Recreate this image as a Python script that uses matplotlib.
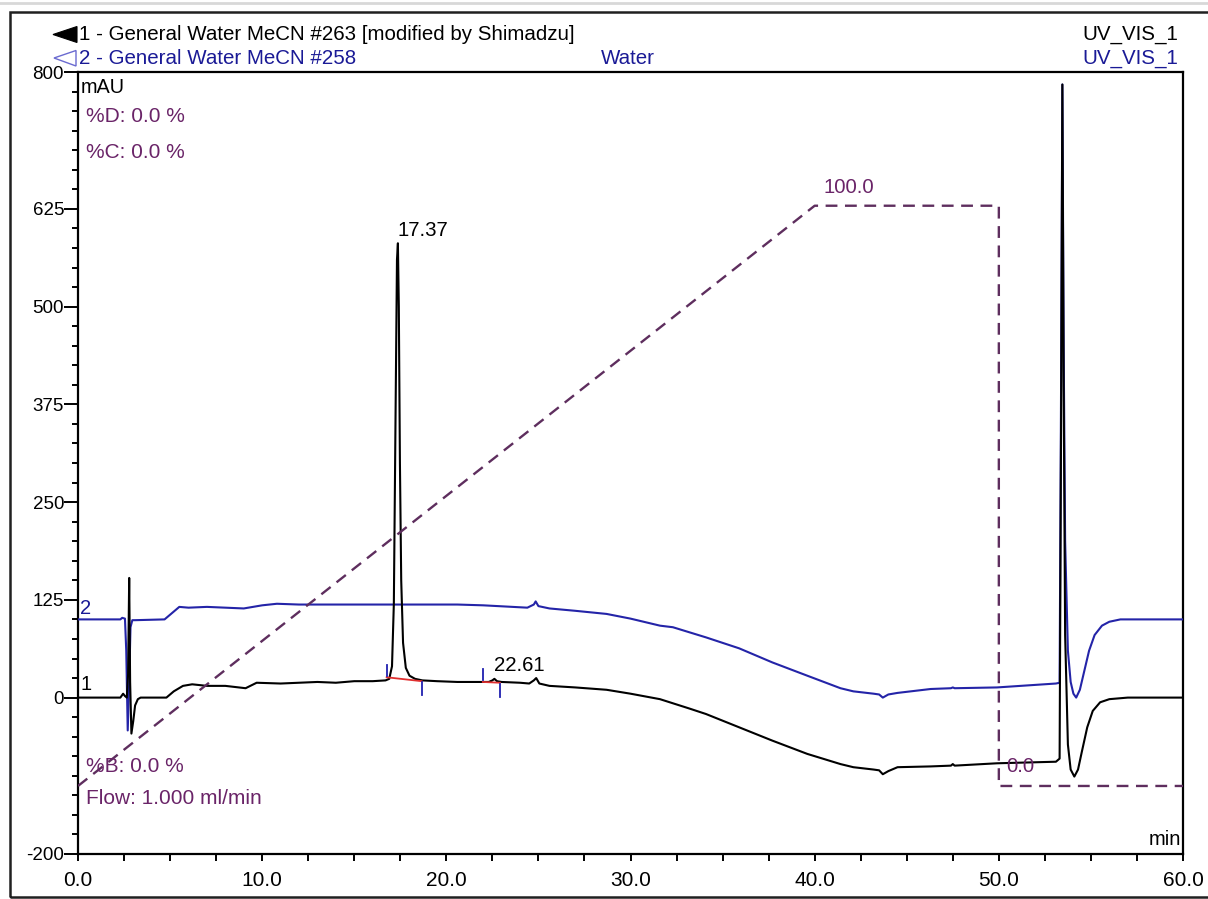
import matplotlib
matplotlib.use("Agg")
import matplotlib.pyplot as plt
from matplotlib.ticker import FixedLocator, MultipleLocator, FormatStrFormatter
from matplotlib.patches import Polygon, Rectangle
from matplotlib.lines import Line2D

# ---------------- data ----------------
# Trace 1: General Water MeCN #263 (time in min, signal in mAU)
t1 = [0.0, 2.3, 2.45, 2.55, 2.65, 2.72, 2.78, 2.83, 2.9, 3.0, 3.1, 3.25, 3.4,
      4.8, 5.2, 5.7, 6.2, 7.0, 8.0, 9.1, 9.7, 11.0, 12.0, 13.0, 14.0, 15.0,
      16.0, 16.7, 16.9, 17.05, 17.15, 17.25, 17.32, 17.37, 17.42, 17.48, 17.55,
      17.65, 17.8, 18.0, 18.3, 18.7, 19.5, 20.6, 21.5, 22.3, 22.5, 22.61, 22.75,
      23.0, 24.0, 24.5, 24.75, 24.88, 25.05, 25.6, 27.0, 28.7, 30.0, 31.6, 33.2,
      34.1, 35.9, 37.7, 39.6, 41.4, 42.1, 43.2, 43.5, 43.7, 44.0, 44.5, 46.3,
      47.4, 47.5, 47.6, 49.9, 53.1, 53.3, 53.38, 53.45, 53.52, 53.6, 53.75,
      53.9, 54.1, 54.3, 54.5, 54.8, 55.1, 55.5, 56.0, 57.0, 60.0]
y1 = [0, 0, 5, 2, 0, 30, 153, 20, -46, -30, -10, -2, 0,
      0, 8, 15, 17, 15, 15, 12, 19, 18, 19, 20, 19, 21,
      21, 22, 24, 40, 120, 380, 560, 581, 500, 300, 150,
      70, 38, 28, 24, 22, 21, 20, 20, 20, 22, 24, 21,
      20, 19, 18, 22, 25, 18, 15, 13, 10, 5, -2, -14,
      -21, -38, -55, -72, -85, -89, -92, -93, -98, -94, -89, -88,
      -87, -85, -87, -84, -82, -78, 350, 784, 400, 80, -60,
      -92, -101, -92, -70, -38, -17, -6, -2, 0, 0]

# Trace 2: General Water MeCN #258
t2 = [0.0, 2.3, 2.4, 2.55, 2.62, 2.7, 2.78, 2.85, 2.95, 3.1, 4.7, 5.1, 5.5,
      6.0, 7.0, 8.0, 9.0, 10.0, 10.8, 12.0, 14.0, 16.0, 18.0, 20.6, 22.0,
      24.4, 24.75, 24.85, 25.0, 25.6, 27.0, 28.7, 30.0, 31.6, 32.3, 34.1, 35.9,
      37.7, 39.6, 41.4, 42.1, 43.2, 43.5, 43.7, 44.0, 44.5, 46.3, 47.4, 47.5,
      47.6, 49.9, 53.1, 53.3, 53.38, 53.45, 53.52, 53.6, 53.75, 53.9, 54.05,
      54.2, 54.4, 54.6, 54.9, 55.2, 55.6, 56.0, 56.6, 60.0]
y2 = [100, 100, 102, 101, 60, -42, 20, 90, 99, 99, 100, 108, 116,
      115, 116, 115, 114, 118, 120, 119, 119, 119, 119, 119, 118,
      115, 119, 123, 117, 114, 111, 107, 101, 92, 90, 77, 63,
      45, 28, 12, 8, 5, 4, 0, 4, 6, 11, 12, 13,
      12, 13, 18, 19, 400, 784, 450, 200, 60, 20, 5,
      0, 10, 30, 60, 80, 92, 97, 100, 100]

# Integrated peaks on trace 1: retention time, start, end, baseline levels
peak_rt = [17.37, 22.61]
peak_label = ["17.37", "22.61"]
peak_top = [581, 24]
peak_start = [16.76, 21.98]
peak_end = [18.66, 22.91]
peak_base_start = [26, 20]
peak_base_end = [21, 19]

# Gradient programme (%B)
grad_t = [0.0, 40.0, 50.0, 50.0, 60.0]
grad_b = [0.0, 100.0, 100.0, 0.0, 0.0]

x_major = [0, 10, 20, 30, 40, 50, 60]
y_major = [-200, 0, 125, 250, 375, 500, 625, 800]

# ---------------- style ----------------
W, H = 1208, 899
FONT = ["Liberation Sans", "DejaVu Sans"]
plt.rcParams["font.family"] = FONT
BLACK = "#000000"
BLUE_LINE = "#2424a8"
BLUE_TEXT = "#1a1a96"
PURPLE_TEXT = "#6a2468"
PURPLE_LINE = "#5e2e5e"


def fx(x):
    return x / W


def fy(y):
    return 1 - y / H


fig = plt.figure(figsize=(W / 100, H / 100), dpi=100)
fig.patch.set_facecolor("white")

ax = fig.add_axes([fx(78), fy(854), (1183 - 78) / W, (854 - 72) / H])
ax.set_xlim(0, 60)
ax.set_ylim(-200, 800)

# %B axis (hidden) so that 0 % and 100 % sit at the gradient trace levels
B0_MAU, B100_MAU = -113.0, 629.0
scale = (B100_MAU - B0_MAU) / 100.0
axg = ax.twinx()
axg.set_ylim((-200 - B0_MAU) / scale, (800 - B0_MAU) / scale)
axg.set_axis_off()

axg.plot(grad_t, grad_b, color=PURPLE_LINE, lw=1.7, dashes=(5, 3.2), zorder=1)

ax.plot(t2, y2, color=BLUE_LINE, lw=1.5, zorder=3)
ax.plot(t1, y1, color=BLACK, lw=1.5, zorder=4)

# integration baselines and delimiters
for s, e, bs, be in zip(peak_start, peak_end, peak_base_start, peak_base_end):
    ax.plot([s, e], [bs, be], color="#e03030", lw=1.3, zorder=5)
    ax.plot([s, s], [bs + 2, bs + 16], color="#2020b0", lw=1.3, zorder=6)
    ax.plot([e, e], [be - 18, be - 1], color="#2020b0", lw=1.3, zorder=6)

for rt, lab, top in zip(peak_rt, peak_label, peak_top):
    ax.annotate(lab, (rt, top), xytext=(0, 2.5), textcoords="offset points",
                ha="left", va="bottom", fontsize=14.7, color=BLACK, zorder=7)

# gradient labels
axg.annotate("100.0", (40.0, 100.0), xytext=(6, 6), textcoords="offset points",
             ha="left", va="bottom", fontsize=14.7, color=PURPLE_TEXT)
axg.annotate("0.0", (50.0, 0.0), xytext=(5, 7.5), textcoords="offset points",
             ha="left", va="bottom", fontsize=14.7, color=PURPLE_TEXT)

# ---------------- axes ----------------
for sp in ax.spines.values():
    sp.set_linewidth(1.6)
    sp.set_color(BLACK)

ax.xaxis.set_major_locator(FixedLocator(x_major))
ax.xaxis.set_minor_locator(MultipleLocator(2.5))
ax.xaxis.set_major_formatter(FormatStrFormatter("%.1f"))
ax.yaxis.set_major_locator(FixedLocator(y_major))
ax.yaxis.set_minor_locator(MultipleLocator(25))
ax.yaxis.set_major_formatter(FormatStrFormatter("%d"))

ax.tick_params(axis="x", which="both", direction="out", length=5, width=1.4,
               labelsize=15, pad=7)
ax.tick_params(axis="y", which="major", direction="out", length=10, width=1.4,
               labelsize=13.5, pad=0)
ax.tick_params(axis="y", which="minor", direction="out", length=4.5, width=1.4)

# in-plot annotations
ax.text(0.002, 0.98, "mAU", transform=ax.transAxes, ha="left", va="center",
        fontsize=14.3, color=BLACK)
ax.text(0.998, 0.006, "min", transform=ax.transAxes, ha="right", va="bottom",
        fontsize=14.5, color=BLACK)

fig.text(fx(86), fy(117), "%D: 0.0 %", ha="left", va="center", fontsize=15,
         color=PURPLE_TEXT)
fig.text(fx(86), fy(152), "%C: 0.0 %", ha="left", va="center", fontsize=15,
         color=PURPLE_TEXT)
fig.text(fx(86), fy(766), "%B: 0.0 %", ha="left", va="center", fontsize=15,
         color=PURPLE_TEXT)
fig.text(fx(86), fy(799), "Flow: 1.000 ml/min", ha="left", va="center",
         fontsize=15, color=PURPLE_TEXT)

fig.text(fx(80), fy(608), "2", ha="left", va="center", fontsize=14.5,
         color=BLUE_TEXT)
fig.text(fx(81), fy(685), "1", ha="left", va="center", fontsize=14.5,
         color=BLACK)

# ---------------- header ----------------
fig.text(fx(79), fy(34.5), "1 - General Water MeCN #263 [modified by Shimadzu]",
         ha="left", va="center", fontsize=14.8, color=BLACK)
fig.text(fx(79), fy(58), "2 - General Water MeCN #258", ha="left",
         va="center", fontsize=14.8, color=BLUE_TEXT)
fig.text(fx(628), fy(58), "Water", ha="center", va="center", fontsize=14.8,
         color=BLUE_TEXT)
fig.text(fx(1178), fy(34.5), "UV_VIS_1", ha="right", va="center",
         fontsize=14.8, color=BLACK)
fig.text(fx(1178), fy(58), "UV_VIS_1", ha="right", va="center",
         fontsize=14.8, color=BLUE_TEXT)

fig.patches.append(Polygon([[fx(53), fy(34.5)], [fx(77), fy(26.5)],
                            [fx(77), fy(42.5)]], closed=True,
                           transform=fig.transFigure, facecolor=BLACK,
                           edgecolor=BLACK, lw=0.8))
fig.patches.append(Polygon([[fx(54), fy(58)], [fx(76), fy(50.5)],
                            [fx(76), fy(66)]], closed=True,
                           transform=fig.transFigure, facecolor="none",
                           edgecolor="#6a6ad0", lw=1.0))

# outer frame (open to the right) and top rule
fig.patches.append(Rectangle((fx(10), fy(897)), fx(1215), (897 - 12) / H,
                             transform=fig.transFigure, facecolor="none",
                             edgecolor="#202020", lw=1.8))
fig.lines.append(Line2D([0, 1], [fy(3), fy(3)], transform=fig.transFigure,
                        color="#d8d8d8", lw=2))

fig.savefig("out.png", dpi=100, facecolor="white")
